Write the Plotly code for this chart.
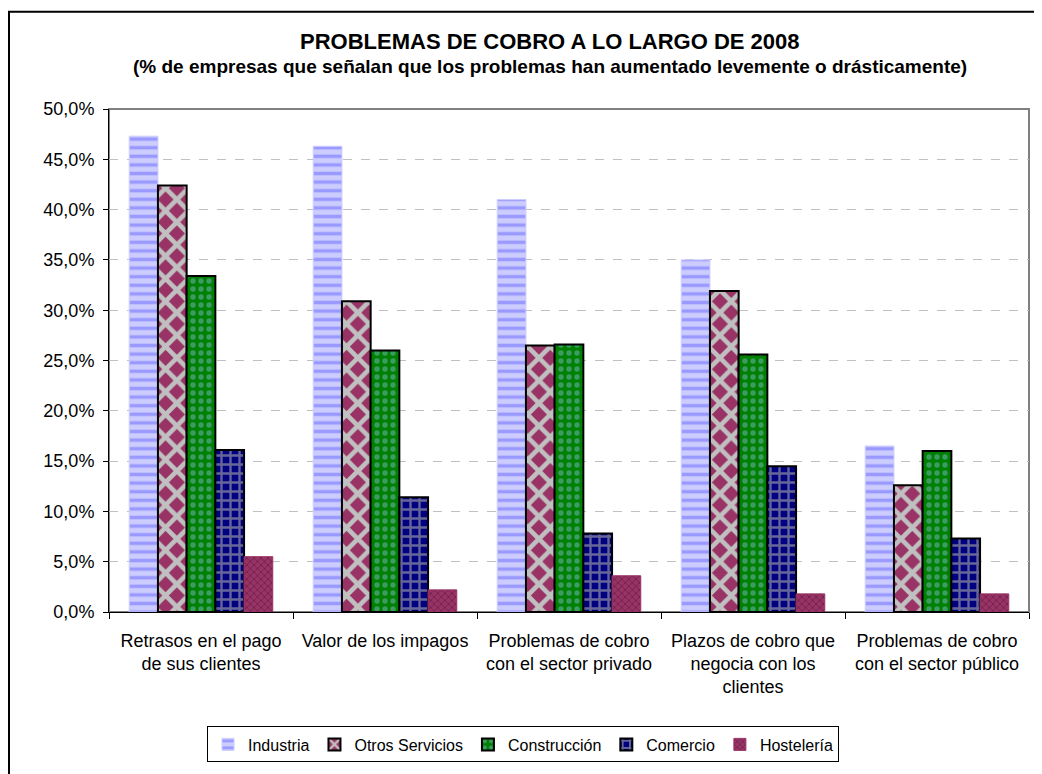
import plotly.graph_objects as go

categories = [
    "Retrasos en el pago<br>de sus clientes",
    "Valor de los impagos",
    "Problemas de cobro<br>con el sector privado",
    "Plazos de cobro que<br>negocia con los<br>clientes",
    "Problemas de cobro<br>con el sector público",
]
series_names = ["Industria", "Otros Servicios", "Construcción", "Comercio", "Hostelería"]
industria = [0.473, 0.463, 0.410, 0.350, 0.165]
otros_servicios = [0.424, 0.309, 0.265, 0.319, 0.126]
construccion = [0.334, 0.260, 0.266, 0.256, 0.160]
comercio = [0.161, 0.114, 0.078, 0.145, 0.073]
hosteleria = [0.055, 0.022, 0.036, 0.018, 0.018]
y_ticks = [0, 0.05, 0.10, 0.15, 0.20, 0.25, 0.30, 0.35, 0.40, 0.45, 0.50]

values = [industria, otros_servicios, construccion, comercio, hosteleria]
styles = [
    dict(shape="-", fg="#9999ff", bg="#ccccff", size=8.6, sol=0.4, line="#ccccff", lw=1),
    dict(shape="x", fg="#c0c0c0", bg="#993366", size=16, sol=0.5, line="#000000", lw=2),
    dict(shape=".", fg="#3c9c64", bg="#008000", size=8, sol=0.35, line="#000000", lw=2),
    dict(shape="+", fg="#666699", bg="#000080", size=9, sol=0.45, line="#000000", lw=2),
    dict(shape="x", fg="#6a1f4a", bg="#993366", size=5, sol=0.3, line="#993366", lw=1),
]

FONT = "Liberation Sans, Arial, sans-serif"
fig = go.Figure()
for name, vals, st in zip(series_names, values, styles):
    fig.add_trace(go.Bar(
        name=name, x=categories, y=vals,
        marker=dict(
            color=st["bg"],
            line=dict(color=st["line"], width=st["lw"]),
            pattern=dict(shape=st["shape"], fgcolor=st["fg"], bgcolor=st["bg"],
                         size=st["size"], solidity=st["sol"], fillmode="replace"),
        ),
        hoverinfo="skip",
    ))

# page body has an 8px margin: work in figure coordinates = screen - 8
OFF = 8
FW, FH = 1034, 766
L = 109 - OFF
T = 109 - OFF
R = FW - (1029 - OFF)
B = FH - (616.5 - OFF)
H = FH - T - B
W = FW - L - R

def px_x(x):
    return (x - OFF - L) / W

def px_y(y):
    return (FH - B - (y - OFF)) / H

fig.update_layout(
    width=FW, height=FH,
    margin=dict(l=L, r=R, t=T, b=B, pad=0),
    paper_bgcolor="white", plot_bgcolor="white",
    separators=",.",
    font=dict(family=FONT, size=18, color="black"),
    barmode="group", bargap=0.22, bargroupgap=0,
    showlegend=True,
    legend=dict(
        orientation="h", x=px_x(523), xanchor="center", y=px_y(732), yanchor="top",
        bordercolor="black", borderwidth=1, font=dict(size=16, family=FONT),
        itemwidth=30, tracegroupgap=0,
    ),
    xaxis=dict(
        showline=True, linecolor="black", linewidth=1,
        ticks="outside", ticklen=6, tickcolor="black", tickson="boundaries",
        tickfont=dict(size=18), showgrid=False, fixedrange=True,
        ticklabelstandoff=12,
    ),
    yaxis=dict(
        range=[0, 0.5], tickvals=y_ticks, tickformat=".1%",
        showline=True, linecolor="black", linewidth=1,
        ticks="outside", ticklen=5, tickcolor="black",
        showgrid=True, gridcolor="#c0c0c0", gridwidth=1, griddash="dash",
        zeroline=False, tickfont=dict(size=18), ticklabelstandoff=5,
    ),
    shapes=[
        dict(type="rect", xref="paper", yref="paper", x0=0, x1=1, y0=0, y1=1,
             line=dict(color="#808080", width=2), layer="below"),
        dict(type="rect", xref="paper", yref="paper",
             x0=px_x(9), x1=px_x(1036), y0=px_y(11), y1=px_y(800),
             line=dict(color="black", width=2), layer="below"),
    ],
    annotations=[
        dict(text="<b>PROBLEMAS DE COBRO A LO LARGO DE 2008</b>", xref="paper", yref="paper",
             x=px_x(550), y=px_y(41), xanchor="center", yanchor="middle", showarrow=False,
             font=dict(size=22, family=FONT)),
        dict(text="<b>(% de empresas que señalan que los problemas han aumentado levemente o drásticamente)</b>",
             xref="paper", yref="paper",
             x=px_x(550), y=px_y(66), xanchor="center", yanchor="middle", showarrow=False,
             font=dict(size=19, family=FONT)),
    ],
)

fig.write_html("out.html")
